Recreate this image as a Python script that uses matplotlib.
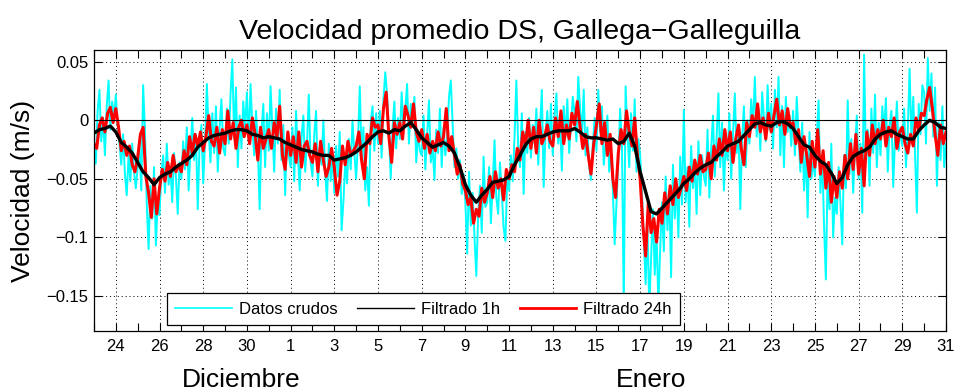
import numpy as np
import matplotlib.pyplot as plt
from matplotlib.lines import Line2D
from matplotlib.ticker import MultipleLocator

plt.rcParams['font.family'] = ['Liberation Sans', 'DejaVu Sans']

# time in days counted from 23 Dec 00:00; velocities in mm/s
# raw series, every 2 h (12 per day)
raw_mm = [
    -22, -37, 8, 26, -18, 2, -30, 12, 34, -8, 16, 2,                 # 23 Dic
    22, -4, -20, -38, -12, -46, -64, -30, -52, -20, -44, -58,        # 24
    -40, -22, -60, 30, -8, -72, -110, -56, -84, -40, -107, -70,      # 25
    -81, -46, -30, -62, -20, -55, -40, -70, -28, -48, -80, -36,      # 26
    -50, -18, -42, -6, -60, -26, 2, -34, -12, -76, -20, -4,          # 27
    -54, -20, 31, -10, -36, 6, -28, 12, -44, -6, 18, -24,            # 28
    -30, 10, -20, 22, 52, -16, 28, -40, 4, -24, 16, -8,              # 29
    24, -18, 31, -6, -30, 8, -22, -76, -10, 14, -40, 6,              # 30
    -26, 29, -8, -44, 10, -20, 26, -34, -4, -64, -14, -30,           # 31
    -40, -6, -52, 8, -30, -60, -14, 4, -44, -20, 22, -36,            # 1 Ene
    -48, -12, 8, -56, -24, -38, 0, -44, -69, -20, -52, -30,          # 2
    -62, -22, -48, -10, -94, -70, -36, -54, -16, -42, 0, -28,        # 3
    -50, -18, 29, -30, -6, -60, -40, -73, -2, 12, -26, 6,            # 4
    -20, 8, -32, 18, 41, 22, -10, -50, -6, 16, -24, 2,               # 5
    -16, 24, -8, 10, 31, -20, 14, -2, 20, -36, -12, -26,             # 6
    -30, 4, -42, -12, 17, -36, -22, -51, -8, -28, 10, -40,           # 7
    -6, -30, -14, 20, 34, -2, -40, -24, -50, -34, -63, -46,          # 8
    -70, -114, -44, -90, -62, -100, -133, -82, -56, -96, -31, -74,   # 9
    -70, -40, -88, -56, -17, -66, -80, -36, -62, -92, -103, -48,     # 10
    -60, -30, -52, -14, 34, -22, -40, 6, -63, -10, -28, 2,           # 11
    -32, -4, -20, 10, -38, -6, 26, -57, -12, 8, -24, 14,             # 12
    -30, 4, 23, -20, -2, -43, 12, -14, 18, -28, -4, 20,              # 13
    6, -18, 37, 10, -12, 26, -30, -6, -40, -51, -20, 2,              # 14
    -26, 26, -10, 12, -38, -20, 4, -44, -24, -60, -106, -72,         # 15
    -36, 10, -20, -160, 29, -10, -40, 6, -26, 18, -44, -16,          # 16
    -30, -62, -100, -140, -90, -160, -118, -76, -132, -96, -158, -110,  # 17
    -70, -112, -48, -94, -60, -134, -38, -84, -52, -100, -31, -72,   # 18
    9, -70, -40, -91, -22, -58, -36, -80, -18, -64, -30, -48,        # 19
    -56, -8, -66, -24, 4, -48, -14, 23, -40, -2, -60, -18,           # 20
    -34, 6, -50, -12, 23, -28, -8, -76, -16, 12, -40, 0,             # 21
    -20, 18, -6, 37, -14, 10, -26, 24, 2, -18, 30, -8,               # 22
    14, -24, 26, -6, 37, -30, 12, -40, 20, -10, 4, -22,              # 23
    8, -30, 20, -12, -44, -2, -60, -24, -83, -10, -50, -36,          # 24
    -48, -14, 17, -62, -30, -90, -136, -44, -76, -20, -100, -66,     # 25
    -80, -40, -70, -106, -30, -58, 17, -46, -16, -62, -24, 4,        # 26
    -50, -20, -79, 56, -34, -8, -56, 10, -28, 22, -40, -2,           # 27
    -30, 12, -10, 19, -44, -4, 8, -57, -14, 16, -26, -6,             # 28
    -22, 10, -40, -8, 44, -18, 20, -30, -79, 14, -12, 30,            # 29
    24, -20, 53, 8, 40, -14, 28, -56, -2, -34, 12, -40,              # 30
    -20,
]

# 24 h filter output, every 3 h (8 per day)
f24_mm = [
    -20, -24, -4, 2, -10, 6, 11, -2,
    10, -6, -26, -18, -30, -22, -38, -44,
    -32, -12, -6, -48, -62, -83, -50, -80,
    -58, -42, -52, -36, -48, -30, -44, -38,
    -44, -26, -38, -14, -28, -12, -22, -10,
    -26, -14, 4, -18, -22, -6, -28, -8,
    -20, 8, -16, -2, -24, -6, 0, -14,
    -4, -20, 2, -12, -34, -6, -24, -16,
    -8, -24, -2, -14, 12, -30, -42, -10,
    -30, -14, -36, -10, -40, -22, -18, -30,
    -36, -20, -44, -18, -34, -48, -40, -24,
    -40, -64, -52, -22, -38, -18, -30, -26,
    -22, -10, -34, -50, -12, -20, 2, -6,
    -4, -20, 10, 24, -14, -36, -2, -12,
    -2, -16, 12, 4, -6, 14, -10, -18,
    -8, -24, -12, -28, -18, -26, -10, -22,
    -14, 10, -26, -14, -30, -46, -38, -54,
    -60, -72, -66, -88, -76, -82, -58, -70,
    -62, -48, -66, -44, -58, -50, -68, -42,
    -50, -38, -44, -24, -34, -10, -22, 0,
    -24, -6, -28, 0, -20, -14, -4, -18,
    -22, 2, -14, 8, -20, -4, -16, 6,
    -4, 16, -6, -24, -12, -30, -46, -20,
    -4, 14, -20, -2, -30, -12, -50, -66,
    -28, -8, -20, 8, -10, -22, 2, -30,
    -50, -90, -116, -70, -96, -84, -104, -76,
    -88, -62, -80, -56, -72, -50, -66, -58,
    -48, -60, -40, -52, -34, -46, -30, -44,
    -42, -28, -50, -22, -34, -16, -30, -8,
    -26, -10, -36, -16, -4, -24, -38, -2,
    -14, 4, -6, 14, -10, 2, -16, 6,
    -10, 4, 18, -4, 8, -12, 10, -6,
    -2, -20, -8, -36, -14, -30, -48, -18,
    -40, -8, -46, -26, -58, -36, -70, -48,
    -66, -44, -58, -30, -50, -20, -42, -12,
    -46, -24, -56, -10, -30, -4, -20, -8,
    -16, 0, -22, -6, -14, 2, -24, -10,
    -6, -20, -28, -12, -22, 2, -8, 6,
    4, 18, 28, 10, -12, -30, -4, -20,
    -10,
]

# 1 h filter output, every 6 h (4 per day)
f1_mm = [
    -11, -8, -7, -5,   -10, -19, -23, -28,   -36, -44, -49, -55,
    -49, -46, -44, -40,   -37, -34, -30, -23,   -19, -15, -13, -12,
    -11, -9, -8, -8,   -9, -12, -13, -15,   -14, -15, -16, -19,
    -21, -23, -25, -26,   -27, -29, -30, -30,   -34, -33, -32, -30,
    -27, -23, -19, -14,   -10, -9, -11, -8,   -9, -5, -2, -8,
    -15, -19, -23, -21,   -19, -22, -28, -40,   -55, -64, -70, -64,
    -59, -53, -52, -51,   -48, -38, -30, -21,   -16, -14, -14, -12,
    -10, -9, -9, -9,   -7, -10, -14, -15,   -15, -16, -17, -16,
    -20, -18, -11, -22,   -44, -61, -78, -80,   -75, -70, -65, -60,
    -54, -50, -45, -41,   -38, -36, -31, -27,   -22, -20, -18, -13,
    -8, -3, -2, -4,   -5, -2, -1, -3,   -7, -14, -21, -23,
    -30, -35, -38, -45,   -54, -49, -38, -31,   -28, -26, -23, -16,
    -12, -10, -9, -12,   -14, -16, -16, -9,   -4, 0, -2, -6,
    -7,
]

day_ticks = np.arange(1, 40, 2)
day_labels = ['24', '26', '28', '30', '1', '3', '5', '7', '9', '11', '13',
              '15', '17', '19', '21', '23', '25', '27', '29', '31']
vel_ticks = [-0.15, -0.1, -0.05, 0, 0.05]
vel_labels = ['\u22120.15', '\u22120.1', '\u22120.05', '0', '0.05']

t_raw = np.arange(len(raw_mm)) / 12
t_24 = np.arange(len(f24_mm)) / 8
t_1 = np.arange(len(f1_mm)) / 4
raw = np.array(raw_mm) / 1000
f24 = np.array(f24_mm) / 1000
f1 = np.array(f1_mm) / 1000

fig = plt.figure(figsize=(9.55, 3.92), dpi=100)
ax = fig.add_axes([0.0984, 0.1556, 0.8922, 0.7168])

ax.plot(t_raw, raw, color='cyan', lw=1.4)
ax.plot(t_24, f24, color='red', lw=2.2)
ax.plot(t_1, f1, color='black', lw=2.4)
ax.axhline(0, color='black', lw=0.8)

ax.set_xlim(0, 39)
ax.set_ylim(-0.18, 0.06)
ax.set_xticks(day_ticks)
ax.set_xticklabels(day_labels)
ax.xaxis.set_minor_locator(MultipleLocator(1))
ax.set_yticks(vel_ticks)
ax.set_yticklabels(vel_labels)
ax.tick_params(which='both', direction='in', top=True, right=True,
               length=6, width=0.8, labelsize=12)
ax.tick_params(axis='x', pad=6)
ax.tick_params(axis='y', pad=4)
ax.grid(True, which='major', color='black', lw=0.7, linestyle=(0, (1, 3)))
for s in ax.spines.values():
    s.set_linewidth(0.9)

ax.set_title('Velocidad promedio DS, Gallega\u2212Galleguilla', fontsize=20.5, pad=8)
ax.set_ylabel('Velocidad (m/s)', fontsize=19)
ax.yaxis.set_label_coords(-0.069, 0.5)

fig.text(241 / 955, 0.012, 'Diciembre', fontsize=19, ha='center', va='baseline')
fig.text(651 / 955, 0.012, 'Enero', fontsize=19, ha='center', va='baseline')

handles = [Line2D([], [], color='cyan', lw=1.2),
           Line2D([], [], color='black', lw=1.0),
           Line2D([], [], color='red', lw=2.0)]
leg = ax.legend(handles, ['Datos crudos', 'Filtrado 1h', 'Filtrado 24h'],
                loc='lower left', bbox_to_anchor=(0.0857, 0.021), ncol=3,
                fontsize=12, frameon=True, fancybox=False, framealpha=1,
                edgecolor='black', borderaxespad=0, handlelength=3.4,
                handletextpad=0.4, columnspacing=1.2, borderpad=0.5)
leg.get_frame().set_linewidth(0.9)

fig.savefig('out.png', dpi=100)
